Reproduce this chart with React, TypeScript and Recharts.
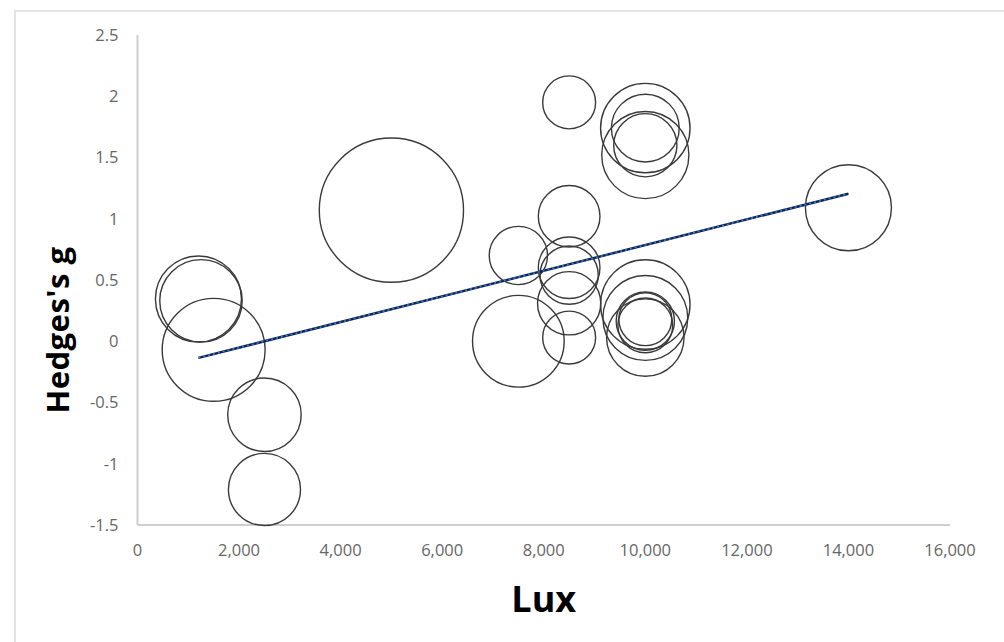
import { ScatterChart, Scatter, XAxis, YAxis, ZAxis, Label } from "recharts";

// bubble positions (lux, Hedges's g) and bubble weights
const luxValues = [
  1200, 1250, 1500, 2500, 2500, 5000, 7500, 7500,
  8500, 8500, 8500, 8500, 8500, 8500,
  10000, 10000, 10000, 10000, 10000, 10000, 10000, 10000, 10000, 10000,
  14000,
];
const hedgesG = [
  0.345, 0.33, -0.07, -0.6, -1.21, 1.07, 0.7, 0.0,
  1.95, 1.02, 0.6, 0.54, 0.31, 0.03,
  1.74, 1.74, 1.6, 1.52, 0.3, 0.19, 0.03, 0.165, 0.18, 0.13,
  1.09,
];
const weights = [
  37, 34, 53, 27, 26, 104, 17, 42,
  14, 19, 19, 17, 20, 14,
  40, 23, 20, 38, 40, 36, 30, 17, 14, 15,
  37,
];

// fitted trend line end points
const trendLux = [1200, 14000];
const trendG = [-0.136, 1.204];

const xTicks = [0, 2000, 4000, 6000, 8000, 10000, 12000, 14000, 16000];
const yTicks = [-1.5, -1, -0.5, 0, 0.5, 1, 1.5, 2, 2.5];

const bubbles = luxValues.map((x, i) => ({ x, y: hedgesG[i], n: weights[i] }));
const trend = trendLux.map((x, i) => ({ x, y: trendG[i] }));

const FONT = "'Open Sans', 'Noto Sans', sans-serif";
const AXIS = "#cfcfcf";

const Bubble = (props: any) => {
  const r = Math.sqrt(Math.max(props.size || 0, 0) / Math.PI);
  return <circle cx={props.cx} cy={props.cy} r={r} fill="none" stroke="#3a3a3a" strokeWidth={1.4} />;
};

const App = () => {
  return (
    <div style={{ position: "absolute", left: 0, top: 0, width: 1004, height: 642, overflow: "hidden", background: "#fff" }}>
      <div style={{ position: "absolute", left: 14, top: 10, width: 1100, height: 800, border: "2px solid #e3e3e3" }} />
      <div style={{ position: "absolute", left: 0, top: 0 }}>
        <ScatterChart width={1004} height={642} margin={{ top: 35, right: 54, left: 0, bottom: 0 }}>
          <XAxis
            type="number"
            dataKey="x"
            domain={[0, 16000]}
            ticks={xTicks}
            tickFormatter={(v: number) => v.toLocaleString("en-US")}
            height={117}
            tickLine={false}
            tickSize={0}
            tickMargin={19}
            axisLine={{ stroke: AXIS, strokeWidth: 2 }}
            tick={{ fill: "#666", fontSize: 16.5, fontFamily: FONT }}
          >
            <Label
              content={({ viewBox }: any) => (
                <text
                  x={viewBox.x + viewBox.width / 2}
                  y={598}
                  textAnchor="middle"
                  dominantBaseline="central"
                  style={{ fontFamily: FONT, fontWeight: 700, fontSize: 36, fill: "#000" }}
                >
                  Lux
                </text>
              )}
            />
          </XAxis>
          <YAxis
            type="number"
            dataKey="y"
            domain={[-1.5, 2.5]}
            ticks={yTicks}
            width={137.5}
            tickLine={false}
            tickSize={0}
            tickMargin={19}
            axisLine={{ stroke: AXIS, strokeWidth: 2 }}
            tick={{ fill: "#666", fontSize: 16.5, fontFamily: FONT }}
          >
            <Label
              content={() => (
                <text
                  x={57}
                  y={330}
                  textAnchor="middle"
                  dominantBaseline="central"
                  transform="rotate(-90 57 330)"
                  style={{ fontFamily: FONT, fontWeight: 700, fontSize: 31, letterSpacing: 0.5, fill: "#000" }}
                >
                  Hedges's g
                </text>
              )}
            />
          </YAxis>
          <ZAxis type="number" dataKey="n" domain={[0, 120]} range={[0, 6000 * Math.PI]} />
          <Scatter data={bubbles} shape={Bubble} isAnimationActive={false} />
          <Scatter
            data={trend}
            line={{ stroke: "#0e2452", strokeWidth: 2.5 }}
            shape={() => <g />}
            isAnimationActive={false}
          />
          <Scatter
            data={trend}
            line={{ stroke: "#3d7cc9", strokeWidth: 1.6, strokeDasharray: "2 3" }}
            shape={() => <g />}
            isAnimationActive={false}
          />
        </ScatterChart>
      </div>
    </div>
  );
};

export default App;
